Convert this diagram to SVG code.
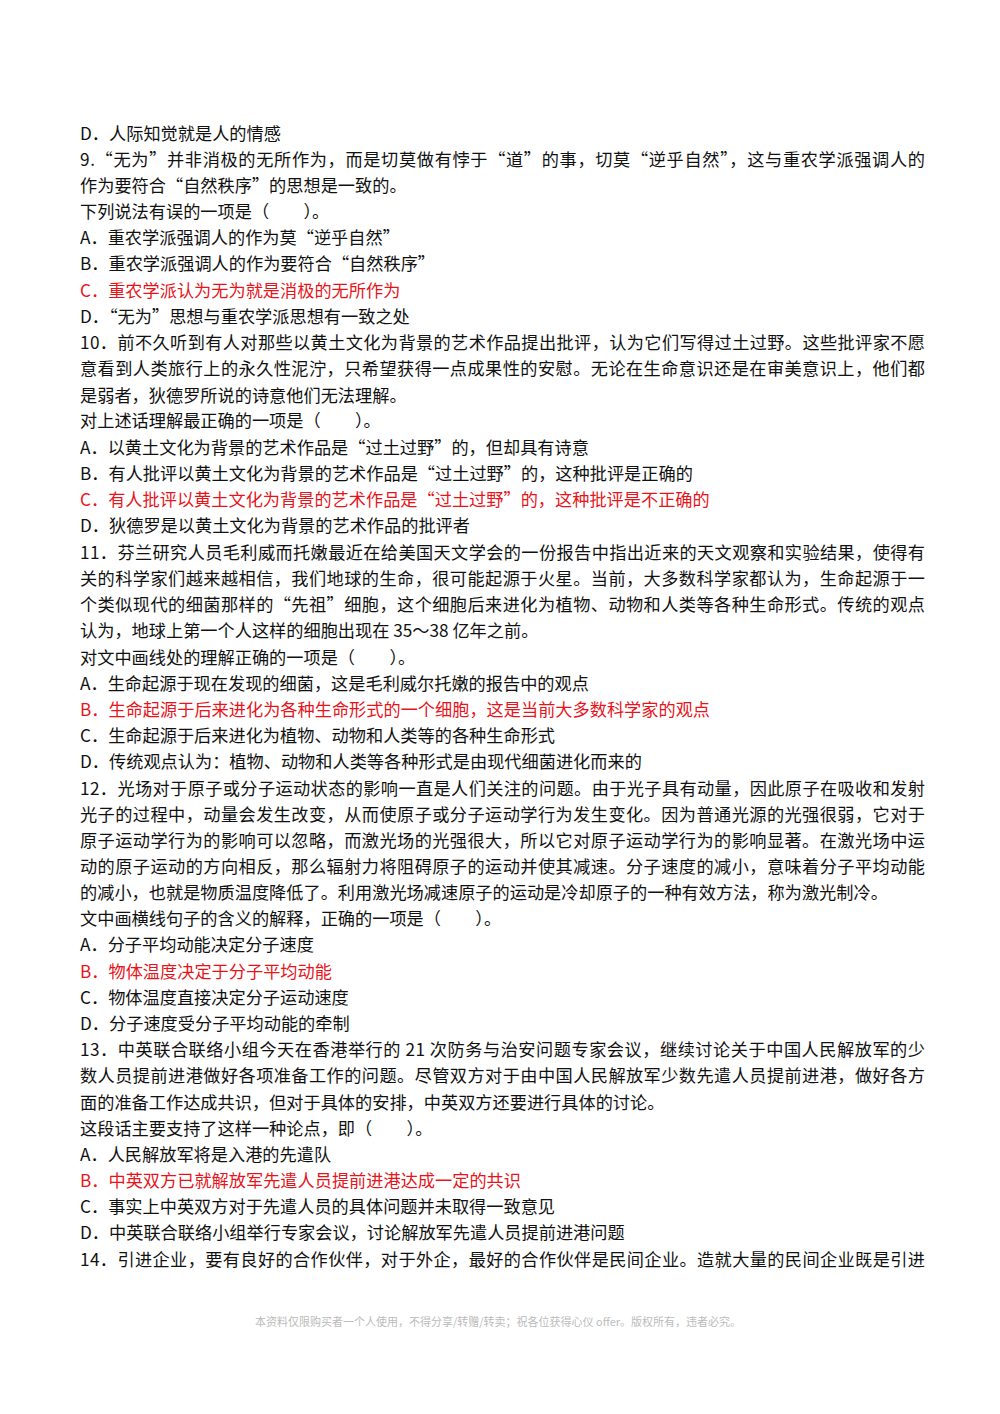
<svg xmlns="http://www.w3.org/2000/svg" width="1000" height="1414" viewBox="0 0 1000 1414">
<style>
text{font-family:"Noto Sans CJK SC","Liberation Serif",serif;font-size:17.2px;fill:#111}
.r{fill:#e8141b}
.f{font-size:11px;fill:#bbb}
</style>
<rect width="1000" height="1414" fill="#fff"/>
<g id="text">
<text x="80" y="140">D．人际知觉就是人的情感</text>
<text x="80" y="166" textLength="845" lengthAdjust="spacing">9.“无为”并非消极的无所作为，而是切莫做有悖于“道”的事，切莫“逆乎自然”，这与重农学派强调人的</text>
<text x="80" y="192">作为要符合“自然秩序”的思想是一致的。</text>
<text x="80" y="218">下列说法有误的一项是（　　）。</text>
<text x="80" y="244">A．重农学派强调人的作为莫“逆乎自然”</text>
<text x="80" y="270">B．重农学派强调人的作为要符合“自然秩序”</text>
<text x="80" y="297" class="r">C．重农学派认为无为就是消极的无所作为</text>
<text x="80" y="323">D．“无为”思想与重农学派思想有一致之处</text>
<text x="80" y="349" textLength="845" lengthAdjust="spacing">10．前不久听到有人对那些以黄土文化为背景的艺术作品提出批评，认为它们写得过土过野。这些批评家不愿</text>
<text x="80" y="375" textLength="845" lengthAdjust="spacing">意看到人类旅行上的永久性泥泞，只希望获得一点成果性的安慰。无论在生命意识还是在审美意识上，他们都</text>
<text x="80" y="402">是弱者，狄德罗所说的诗意他们无法理解。</text>
<text x="80" y="427">对上述话理解最正确的一项是（　　）。</text>
<text x="80" y="454">A．以黄土文化为背景的艺术作品是“过土过野”的，但却具有诗意</text>
<text x="80" y="480">B．有人批评以黄土文化为背景的艺术作品是“过土过野”的，这种批评是正确的</text>
<text x="80" y="506" class="r">C．有人批评以黄土文化为背景的艺术作品是“过土过野”的，这种批评是不正确的</text>
<text x="80" y="532">D．狄德罗是以黄土文化为背景的艺术作品的批评者</text>
<text x="80" y="559" textLength="845" lengthAdjust="spacing">11．芬兰研究人员毛利威而托嫩最近在给美国天文学会的一份报告中指出近来的天文观察和实验结果，使得有</text>
<text x="80" y="585" textLength="845" lengthAdjust="spacing">关的科学家们越来越相信，我们地球的生命，很可能起源于火星。当前，大多数科学家都认为，生命起源于一</text>
<text x="80" y="611" textLength="845" lengthAdjust="spacing">个类似现代的细菌那样的“先祖”细胞，这个细胞后来进化为植物、动物和人类等各种生命形式。传统的观点</text>
<text x="80" y="637">认为，地球上第一个人这样的细胞出现在 35～38 亿年之前。</text>
<text x="80" y="664">对文中画线处的理解正确的一项是（　　）。</text>
<text x="80" y="690">A．生命起源于现在发现的细菌，这是毛利威尔托嫩的报告中的观点</text>
<text x="80" y="716" class="r">B．生命起源于后来进化为各种生命形式的一个细胞，这是当前大多数科学家的观点</text>
<text x="80" y="742">C．生命起源于后来进化为植物、动物和人类等的各种生命形式</text>
<text x="80" y="768">D．传统观点认为：植物、动物和人类等各种形式是由现代细菌进化而来的</text>
<text x="80" y="795" textLength="845" lengthAdjust="spacing">12．光场对于原子或分子运动状态的影响一直是人们关注的问题。由于光子具有动量，因此原子在吸收和发射</text>
<text x="80" y="821" textLength="845" lengthAdjust="spacing">光子的过程中，动量会发生改变，从而使原子或分子运动学行为发生变化。因为普通光源的光强很弱，它对于</text>
<text x="80" y="847" textLength="845" lengthAdjust="spacing">原子运动学行为的影响可以忽略，而激光场的光强很大，所以它对原子运动学行为的影响显著。在激光场中运</text>
<text x="80" y="873" textLength="845" lengthAdjust="spacing">动的原子运动的方向相反，那么辐射力将阻碍原子的运动并使其减速。分子速度的减小，意味着分子平均动能</text>
<text x="80" y="899">的减小，也就是物质温度降低了。利用激光场减速原子的运动是冷却原子的一种有效方法，称为激光制冷。</text>
<text x="80" y="925">文中画横线句子的含义的解释，正确的一项是（　　）。</text>
<text x="80" y="951">A．分子平均动能决定分子速度</text>
<text x="80" y="978" class="r">B．物体温度决定于分子平均动能</text>
<text x="80" y="1004">C．物体温度直接决定分子运动速度</text>
<text x="80" y="1030">D．分子速度受分子平均动能的牵制</text>
<text x="80" y="1056" textLength="845" lengthAdjust="spacing">13．中英联合联络小组今天在香港举行的 21 次防务与治安问题专家会议，继续讨论关于中国人民解放军的少</text>
<text x="80" y="1082" textLength="845" lengthAdjust="spacing">数人员提前进港做好各项准备工作的问题。尽管双方对于由中国人民解放军少数先遣人员提前进港，做好各方</text>
<text x="80" y="1109">面的准备工作达成共识，但对于具体的安排，中英双方还要进行具体的讨论。</text>
<text x="80" y="1135">这段话主要支持了这样一种论点，即（　　）。</text>
<text x="80" y="1161">A．人民解放军将是入港的先遣队</text>
<text x="80" y="1187" class="r">B．中英双方已就解放军先遣人员提前进港达成一定的共识</text>
<text x="80" y="1213">C．事实上中英双方对于先遣人员的具体问题并未取得一致意见</text>
<text x="80" y="1239">D．中英联合联络小组举行专家会议，讨论解放军先遣人员提前进港问题</text>
<text x="80" y="1266" textLength="845" lengthAdjust="spacing">14．引进企业，要有良好的合作伙伴，对于外企，最好的合作伙伴是民间企业。造就大量的民间企业既是引进</text>
<text x="498" y="1326" class="f" text-anchor="middle">本资料仅限购买者一个人使用，不得分享/转赠/转卖；祝各位获得心仪 offer。版权所有，违者必究。</text>
</g>
</svg>
